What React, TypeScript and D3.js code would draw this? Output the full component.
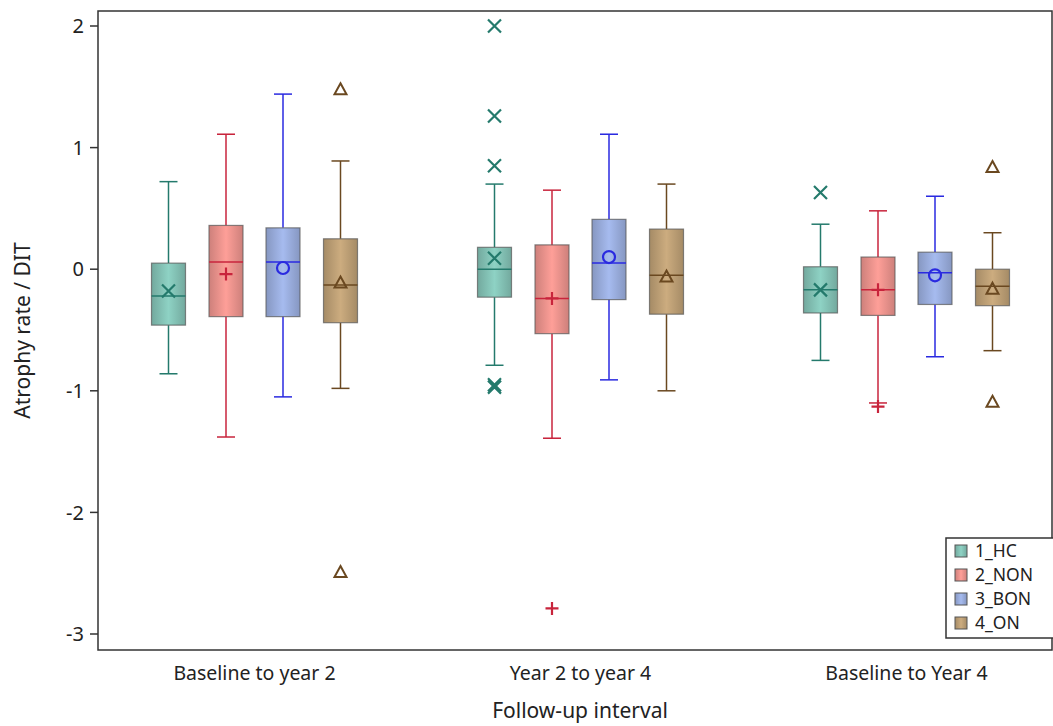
import * as d3 from "d3";

const intervals = ["Baseline to year 2", "Year 2 to year 4", "Baseline to Year 4"];
const groups = ["1_HC", "2_NON", "3_BON", "4_ON"];
const fills = ["#82c0b3", "#e8918b", "#98abdb", "#bb9d74"];
const strokes = ["#247a6c", "#c8243c", "#2a2ae0", "#6a4820"];
const symbols = ["x", "plus", "circle", "triangle"];

// [low, q1, median, q3, high, mean] per interval, per group
const stats: number[][][] = [
  [
    [-0.86, -0.46, -0.22, 0.05, 0.72, -0.18],
    [-1.38, -0.39, 0.06, 0.36, 1.11, -0.04],
    [-1.05, -0.39, 0.06, 0.34, 1.44, 0.01],
    [-0.98, -0.44, -0.13, 0.25, 0.89, -0.11],
  ],
  [
    [-0.79, -0.23, 0.0, 0.18, 0.7, 0.09],
    [-1.39, -0.53, -0.24, 0.2, 0.65, -0.24],
    [-0.91, -0.25, 0.05, 0.41, 1.11, 0.1],
    [-1.0, -0.37, -0.05, 0.33, 0.7, -0.06],
  ],
  [
    [-0.75, -0.36, -0.17, 0.02, 0.37, -0.17],
    [-1.1, -0.38, -0.17, 0.1, 0.48, -0.17],
    [-0.72, -0.29, -0.03, 0.14, 0.6, -0.05],
    [-0.67, -0.3, -0.14, 0.0, 0.3, -0.16],
  ],
];
const outliers: number[][][] = [
  [[], [], [], [1.48, -2.49]],
  [[2.0, 1.26, 0.85, -0.95, -0.97], [-2.79], [], []],
  [[0.63], [-1.13], [], [0.84, -1.09]],
];
const yTicks = [2, 1, 0, -1, -2, -3];

const font = "'Noto Sans', 'Open Sans', sans-serif";
const left = 98, top = 11, right = 1052, bottom = 650;

const x = d3.scaleBand<string>().domain(intervals).range([91.5, 1069.5]);
const y = d3.scaleLinear().domain([-3, 2]).range([634, 26]);
const offsets = [-86, -28.5, 28.5, 86];
const boxW = 34;

function Marker({ kind, cx, cy, color }: { kind: string; cx: number; cy: number; color: string }) {
  const s = 6.5;
  if (kind === "x")
    return <path d={`M${cx - s},${cy - s}L${cx + s},${cy + s}M${cx - s},${cy + s}L${cx + s},${cy - s}`} stroke={color} strokeWidth={2.2} fill="none" />;
  if (kind === "plus")
    return <path d={`M${cx - s},${cy}L${cx + s},${cy}M${cx},${cy - s}L${cx},${cy + s}`} stroke={color} strokeWidth={2.2} fill="none" />;
  if (kind === "circle") return <circle cx={cx} cy={cy} r={6} stroke={color} strokeWidth={2.2} fill="none" />;
  return <path d={`M${cx},${cy - 6}L${cx + 6},${cy + 5}L${cx - 6},${cy + 5}Z`} stroke={color} strokeWidth={2} fill="none" />;
}

export default function App() {
  return (
    <svg width={1053} height={726} style={{ position: "absolute", left: 0, top: 0 }} fontFamily={font}>
      <defs>
        {fills.map((f, i) => (
          <linearGradient key={i} id={`g${i}`} x1="0" x2="1" y1="0" y2="0">
            <stop offset="0" stopColor={d3.color(f)!.darker(0.35).toString()} />
            <stop offset="0.5" stopColor={d3.color(f)!.brighter(0.25).toString()} />
            <stop offset="1" stopColor={d3.color(f)!.darker(0.35).toString()} />
          </linearGradient>
        ))}
      </defs>
      <rect x={left} y={top} width={right - left} height={bottom - top} fill="white" stroke="#333" strokeWidth={1.5} />
      {yTicks.map((t) => (
        <g key={t}>
          <line x1={left - 8} x2={left} y1={y(t)} y2={y(t)} stroke="#333" strokeWidth={1.5} />
          <text x={left - 14} y={y(t)} dy="0.36em" textAnchor="end" fontSize={20} fill="#222">{t}</text>
        </g>
      ))}
      {intervals.map((c) => (
        <text key={c} x={x(c)! + x.bandwidth() / 2} y={680} textAnchor="middle" fontSize={19.5} fill="#222">{c}</text>
      ))}
      <text x={580} y={718} textAnchor="middle" fontSize={21} fill="#222">Follow-up interval</text>
      <text transform={`translate(30,${(top + bottom) / 2}) rotate(-90)`} textAnchor="middle" fontSize={21} fill="#222">Atrophy rate / DIT</text>
      {intervals.map((c, ci) =>
        groups.map((g, gi) => {
          const [lo, q1, med, q3, hi, mean] = stats[ci][gi];
          const cx = x(c)! + x.bandwidth() / 2 + offsets[gi];
          const col = strokes[gi];
          return (
            <g key={c + g}>
              <line x1={cx} x2={cx} y1={y(hi)} y2={y(q3)} stroke={col} strokeWidth={1.5} />
              <line x1={cx} x2={cx} y1={y(q1)} y2={y(lo)} stroke={col} strokeWidth={1.5} />
              <line x1={cx - 9} x2={cx + 9} y1={y(hi)} y2={y(hi)} stroke={col} strokeWidth={1.5} />
              <line x1={cx - 9} x2={cx + 9} y1={y(lo)} y2={y(lo)} stroke={col} strokeWidth={1.5} />
              <rect x={cx - boxW / 2} y={y(q3)} width={boxW} height={y(q1) - y(q3)} fill={`url(#g${gi})`} stroke="#555" strokeOpacity={0.7} strokeWidth={1.2} />
              <line x1={cx - boxW / 2} x2={cx + boxW / 2} y1={y(med)} y2={y(med)} stroke={col} strokeWidth={1.5} />
              <Marker kind={symbols[gi]} cx={cx} cy={y(mean)} color={col} />
              {outliers[ci][gi].map((o, oi) => (
                <Marker key={oi} kind={symbols[gi]} cx={cx} cy={y(o)} color={col} />
              ))}
            </g>
          );
        })
      )}
      <g transform="translate(946,538)">
        <rect width={110} height={100} fill="white" stroke="#333" strokeWidth={1.5} />
        {groups.map((g, i) => (
          <g key={g} transform={`translate(9,${13 + i * 24})`}>
            <rect x={0} y={-6} width={12} height={12} fill={`url(#g${i})`} stroke="#555" strokeWidth={1} />
            <text x={20} y={0} dy="0.35em" fontSize={17.5} fill="#222">{g}</text>
          </g>
        ))}
      </g>
    </svg>
  );
}
